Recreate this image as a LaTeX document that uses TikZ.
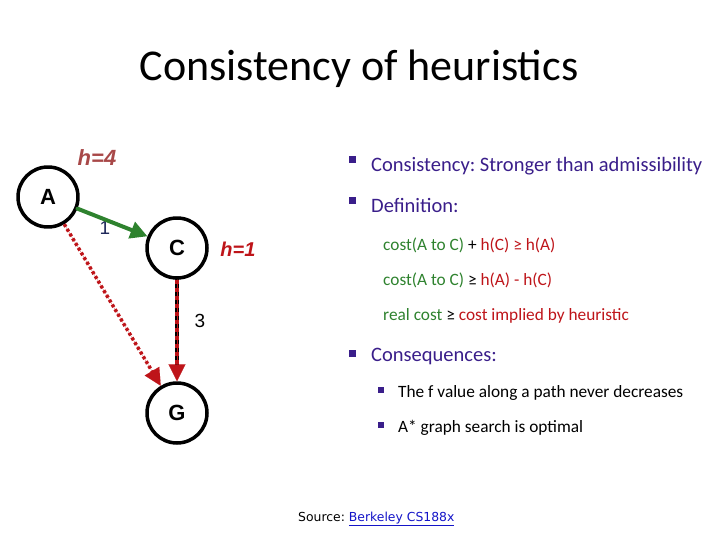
\documentclass[tikz,border=0pt]{standalone}
\usepackage{fontspec}
\setmainfont{Carlito}
\newfontfamily\arialfont{Liberation Sans}
\newfontfamily\srcfont{DejaVu Sans}
\usetikzlibrary{arrows.meta}
\definecolor{headc}{RGB}{58,30,138}
\definecolor{costc}{RGB}{46,130,46}
\definecolor{heurc}{RGB}{190,20,25}
\definecolor{hfourc}{RGB}{168,72,72}
\definecolor{edgec}{RGB}{30,40,90}
\definecolor{linkc}{RGB}{20,20,200}
\frenchspacing

\begin{document}
\begin{tikzpicture}[x=1pt,y=-1pt,line cap=round,line join=round,
  state/.style={circle,draw=black,line width=3.5pt,minimum size=60pt,inner sep=0pt,
    font=\arialfont\bfseries\fontsize{22}{26}\selectfont},
  hlabel/.style={font=\arialfont\bfseries\itshape\fontsize{20}{24}\selectfont},
  wlabel/.style={font=\arialfont\fontsize{19}{22}\selectfont},
  item/.style={anchor=base west,inner sep=0pt,text=headc,font=\fontsize{20.5}{24}\selectfont},
  subitem/.style={anchor=base west,inner sep=0pt,font=\fontsize{17.3}{21}\selectfont},
  bul/.style={fill=headc,minimum size=7pt,inner sep=0pt},
  subbul/.style={fill=headc,minimum size=5.5pt,inner sep=0pt},
  bigtip/.style={-{Triangle[length=17pt,width=17pt]}}]
  \useasboundingbox (0,0) rectangle (720,540);
  % title
  \node[font=\fontsize{44}{52}\selectfont,anchor=base] (title) at (359,81)
    {Consistency of heuristics};
  % graph
  \node[state] (A) at (48,197) {A};
  \node[state] (C) at (177,248) {C};
  \node[state] (G) at (177,413) {G};
  \node[hlabel,text=hfourc,font=\arialfont\bfseries\itshape\fontsize{22}{26}\selectfont]
    (hA) at (97,158) {h=4};
  \node[hlabel,text=heurc] (hC) at (238,249) {h=1};
  \node[wlabel,text=edgec] (wAC) at (105,228) {1};
  \node[wlabel,text=black] (wCG) at (200,321) {3};
  \draw[bigtip,costc,line width=4pt] (A) -- (C);
  \draw[heurc,line width=3.5pt,line cap=butt,dash pattern=on 3pt off 2.5pt,
    shorten >=14pt] (A) -- (G);
  \draw[bigtip,heurc,line width=0.1pt] (A) -- (G);
  \draw[black,line width=3.5pt,shorten >=14pt] (C) -- (G);
  \draw[heurc,line width=3.5pt,line cap=butt,dash pattern=on 4pt off 4pt,
    shorten >=14pt] (C) -- (G);
  \draw[bigtip,heurc,line width=0.1pt] (C) -- (G);
  % text
  \node[bul] (b1) at (352,160) {};
  \node[item] (t1) at (371,172) {Consistency: Stronger than admissibility};
  \node[bul] (b2) at (352,201) {};
  \node[item] (t2) at (371,213) {Definition:};
  \node[subitem] (d1) at (383,250)
    {\textcolor{costc}{cost(A to C)} + \textcolor{heurc}{h(C) ≥ h(A)}};
  \node[subitem] (d2) at (383,285)
    {\textcolor{costc}{cost(A to C)} ≥ \textcolor{heurc}{h(A) - h(C)}};
  \node[subitem] (d3) at (383,320)
    {\textcolor{costc}{real cost} ≥ \textcolor{heurc}{cost implied by heuristic}};
  \node[bul] (b3) at (352,353) {};
  \node[item] (t3) at (371,361) {Consequences:};
  \node[subbul] (s1) at (381,390) {};
  \node[subitem,text=black] (c1) at (398,397) {The f value along a path never decreases};
  \node[subbul] (s2) at (381,425) {};
  \node[subitem,text=black] (c2) at (398,432) {A* graph search is optimal};
  % source
  \node[anchor=base west,inner sep=0pt,font=\srcfont\fontsize{12.4}{15}\selectfont] (src)
    at (298,521) {Source: \textcolor{linkc}{\underline{Berkeley CS188x}}};
\end{tikzpicture}
\end{document}
